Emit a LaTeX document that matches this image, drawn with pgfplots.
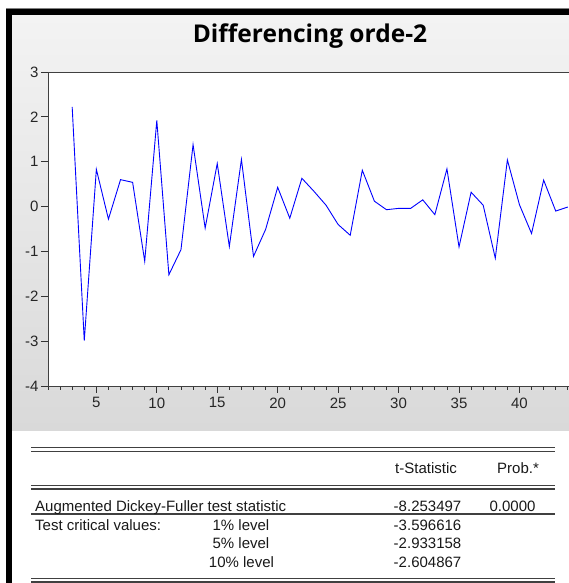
\documentclass[border=0pt]{standalone}
\usepackage{pgfplots}
\pgfplotsset{compat=1.18}
\usepackage{fontspec}
\setmainfont{Liberation Sans}
\newfontfamily\titlefont{Open Sans}
\definecolor{bgtop}{HTML}{F3F3F3}
\definecolor{bgbot}{HTML}{D9D9D9}
\definecolor{tbl}{HTML}{404040}
\pgfplotstableread{
x y
3 2.22
4 -2.99
5 0.83
6 -0.28
7 0.60
8 0.54
9 -1.22
10 1.92
11 -1.52
12 -0.96
13 1.38
14 -0.48
15 0.96
16 -0.89
17 1.05
18 -1.11
19 -0.51
20 0.43
21 -0.26
22 0.63
23 0.34
24 0.03
25 -0.40
26 -0.64
27 0.81
28 0.12
29 -0.07
30 -0.04
31 -0.04
32 0.15
33 -0.18
34 0.84
35 -0.90
36 0.32
37 0.03
38 -1.15
39 1.04
40 0.04
41 -0.60
42 0.59
43 -0.10
44 -0.01
}\series
\begin{document}
\begin{tikzpicture}[x=1pt,y=1pt]
\useasboundingbox (0,0) rectangle (569,583);
\clip (0,0) rectangle (569,583);
\fill[white] (0,0) rectangle (569,583);
% gray chart region
\shade[top color=bgtop, bottom color=bgbot] (12,152) rectangle (569,568);
% black frame
\fill[black] (6,568) rectangle (569,574);
\fill[black] (6,0) rectangle (12,574);
\draw[gray, line width=0.6pt] (6,574.3) -- (569,574.3);
% title
\node[font=\titlefont\bfseries\fontsize{24.5}{26}\selectfont, anchor=center] at (310,547) {Differencing orde-2};
\begin{axis}[
  at={(48pt,197pt)}, anchor=south west,
  scale only axis, width=544pt, height=314pt,
  xmin=1, xmax=46, ymin=-4, ymax=3,
  axis background/.style={fill=white},
  axis line style={black!75, line width=0.9pt},
  xtick={5,10,...,40}, minor xtick={1,...,46},
  ytick={-4,-3,...,3},
  tick align=outside,
  xtick pos=bottom, ytick pos=left,
  major tick length=7pt, minor tick length=4pt,
  tick style={black!80, line width=0.8pt},
  /pgf/number format/assume math mode=true,
  ticklabel style={font=\fontsize{15}{17}\selectfont, text=black!85},
  xticklabel style={yshift=-1pt},
  yticklabel style={xshift=1pt},
  clip=true,
]
\addplot[blue, line width=0.9pt] table[x=x,y=y] {\series};
\end{axis}
% table
\begin{scope}[tbl, line width=1.1pt]
\draw (31,135.3) -- (555,135.3);
\draw (31,131.7) -- (555,131.7);
\draw (31,97.3) -- (555,97.3);
\draw (31,94) -- (555,94);
\draw (31,69) -- (555,69);
\draw (31,4.3) -- (555,4.3);
\draw (31,1) -- (555,1);
\end{scope}
\begin{scope}[every node/.style={font=\fontsize{15}{17}\selectfont, text=black!90, inner sep=0pt}]
\node[anchor=base] at (426,109) {t-Statistic};
\node[anchor=base] at (518,109) {Prob.*};
\node[anchor=base west] at (35,71.3) {Augmented Dickey-Fuller test statistic};
\node[anchor=base east] at (461.5,71.3) {-8.253497};
\node[anchor=base] at (512.5,71.3) {0.0000};
\node[anchor=base west] at (35,52) {Test critical values:};
\node[anchor=base] at (241,52) {1\% level};
\node[anchor=base east] at (461.5,52) {-3.596616};
\node[anchor=base] at (241,34) {5\% level};
\node[anchor=base east] at (461.5,34) {-2.933158};
\node[anchor=base] at (241.5,16) {10\% level};
\node[anchor=base east] at (461.5,16) {-2.604867};
\end{scope}
\end{tikzpicture}
\end{document}
